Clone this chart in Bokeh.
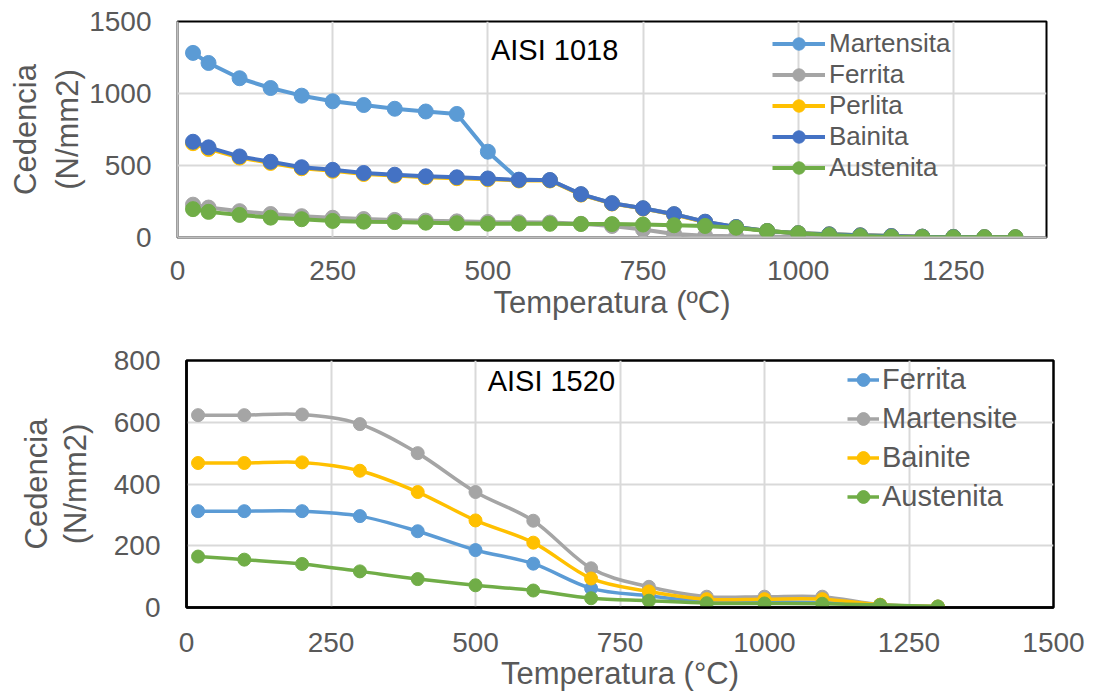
import numpy as np
from bokeh.plotting import figure
from bokeh.models import Range1d, FixedTicker, Legend, LegendItem, Label
from bokeh.embed import file_html
from bokeh.resources import INLINE

# ---------------- AISI 1018 (top) ----------------
temp_1018 = [25, 50, 100, 150, 200, 250, 300, 350, 400, 450, 500, 550, 600, 650,
             700, 750, 800, 850, 900, 950, 1000, 1050, 1100, 1150, 1200, 1250, 1300, 1350]
martensita_1018 = [1282, 1212, 1106, 1038, 985, 946, 920, 894, 875, 858, 596, 402, 398, 300,
                   238, 203, 162, 108, 72, 45, 30, 22, 15, 10, 6, 4, 2, 1]
ferrita_1018 = [228, 208, 183, 163, 148, 137, 128, 122, 117, 112, 108, 106, 104, 95,
                80, 55, 25, 12, 8, 6, 5, 4, 3, 2, 2, 1, 1, 1]
perlita_1018 = [655, 615, 555, 518, 481, 463, 441, 430, 419, 412, 405, 396, 396, 298,
                236, 201, 160, 108, 72, 45, 30, 22, 15, 10, 6, 4, 2, 1]
bainita_1018 = [665, 626, 563, 526, 488, 470, 448, 436, 425, 418, 410, 400, 399, 301,
                238, 203, 162, 110, 73, 45, 30, 22, 15, 10, 6, 4, 2, 1]
austenita_1018 = [197, 178, 157, 138, 127, 115, 110, 107, 103, 99, 96, 96, 95, 94,
                  93, 90, 85, 80, 68, 45, 29, 17, 10, 5, 3, 2, 2, 2]
names_1018 = ["Martensita", "Ferrita", "Perlita", "Bainita", "Austenita"]
x_ticks_1018 = [0, 250, 500, 750, 1000, 1250]
y_ticks_1018 = [0, 500, 1000, 1500]

# ---------------- AISI 1520 (bottom) ----------------
temp_1520 = [20, 100, 200, 300, 400, 500, 600, 700, 800, 900, 1000, 1100, 1200, 1300]
ferrita_1520 = [312, 312, 312, 296, 247, 186, 142, 62, 38, 20, 18, 16, 8, 3]
martensite_1520 = [623, 623, 625, 594, 500, 374, 281, 127, 67, 35, 35, 35, 9, 3]
bainite_1520 = [468, 468, 470, 443, 374, 282, 210, 94, 52, 27, 27, 27, 9, 3]
austenita_1520 = [165, 155, 141, 117, 92, 72, 55, 30, 22, 14, 13, 12, 8, 3]
names_1520 = ["Ferrita", "Martensite", "Bainite", "Austenita"]
x_ticks_1520 = [0, 250, 500, 750, 1000, 1250, 1500]
y_ticks_1520 = [0, 200, 400, 600, 800]

C_LBLUE = "#5B9BD5"
C_GRAY = "#A5A5A5"
C_GOLD = "#FFC000"
C_BLUE = "#4472C4"
C_GREEN = "#70AD47"
TXT = "#595959"
FONT = "Liberation Sans"


def style(p, xt, yt, x_tick_standoff, x_title_standoff, y_title_standoff, y_line_height):
    p.xaxis.ticker = FixedTicker(ticks=xt)
    p.yaxis.ticker = FixedTicker(ticks=yt)
    for ax in (p.xaxis[0], p.yaxis[0]):
        ax.major_tick_in = 0
        ax.major_tick_out = 0
        ax.minor_tick_in = 0
        ax.minor_tick_out = 0
        ax.major_label_text_font = FONT
        ax.major_label_text_font_size = "28px"
        ax.major_label_text_color = TXT
        ax.axis_label_text_font = FONT
        ax.axis_label_text_font_size = "31px"
        ax.axis_label_text_font_style = "normal"
        ax.axis_label_text_color = TXT
    p.yaxis.axis_label_text_line_height = y_line_height
    p.xaxis.major_label_standoff = x_tick_standoff
    p.xaxis.axis_label_standoff = x_title_standoff
    p.yaxis.major_label_standoff = 26
    p.yaxis.axis_label_standoff = y_title_standoff
    p.xgrid.grid_line_color = "#D9D9D9"
    p.ygrid.grid_line_color = "#D9D9D9"
    p.xgrid.grid_line_width = 2
    p.ygrid.grid_line_width = 2
    p.background_fill_color = "white"
    p.border_fill_color = "white"


# ---------------- top figure ----------------
p1 = figure(width=1094, height=322, output_backend="svg", toolbar_location=None,
            x_range=Range1d(0, 1400), y_range=Range1d(0, 1500),
            min_border_left=177, min_border_right=48, min_border_top=21, min_border_bottom=85)
style(p1, x_ticks_1018, y_ticks_1018, 23, 2, 1, 1.2)
p1.xaxis.axis_label = "Temperatura (ºC)"
p1.yaxis.axis_label = "Cedencia\n(N/mm2)"
p1.outline_line_color = "black"
p1.outline_line_width = 2
p1.xaxis.axis_line_color = "#BFBFBF"
p1.yaxis.axis_line_color = "#BFBFBF"
p1.xaxis.axis_line_width = 2
p1.yaxis.axis_line_width = 2

items1 = []
for name, ys, col in zip(names_1018,
                         [martensita_1018, ferrita_1018, perlita_1018, bainita_1018, austenita_1018],
                         [C_LBLUE, C_GRAY, C_GOLD, C_BLUE, C_GREEN]):
    r_l = p1.line(temp_1018, ys, line_color=col, line_width=4)
    r_m = p1.scatter(temp_1018, ys, size=15, fill_color=col, line_color=col)
    items1.append(LegendItem(label=name, renderers=[r_l, r_m]))

leg1 = Legend(items=items1, location=(595, 54), padding=0, margin=0, spacing=0,
              glyph_width=53, glyph_height=31, label_height=31, label_standoff=4,
              label_text_font=FONT, label_text_font_size="26px", label_text_color=TXT,
              background_fill_alpha=0, border_line_alpha=0)
p1.add_layout(leg1, "center")
p1.add_layout(Label(x=505, y=1300, text="AISI 1018", text_font=FONT, text_font_size="29px",
                    text_color="black", text_baseline="middle"))


# ---------------- bottom figure ----------------
def bezier_parts(xs, ys):
    n = len(xs)
    out = {k: [] for k in ("x0", "y0", "x1", "y1", "cx0", "cy0", "cx1", "cy1")}
    for i in range(n - 1):
        a = max(i - 1, 0)
        b = min(i + 2, n - 1)
        out["x0"].append(xs[i]); out["y0"].append(ys[i])
        out["x1"].append(xs[i + 1]); out["y1"].append(ys[i + 1])
        out["cx0"].append(xs[i] + (xs[i + 1] - xs[a]) / 6.0)
        out["cy0"].append(ys[i] + (ys[i + 1] - ys[a]) / 6.0)
        out["cx1"].append(xs[i + 1] - (xs[b] - xs[i]) / 6.0)
        out["cy1"].append(ys[i + 1] - (ys[b] - ys[i]) / 6.0)
    return out


p2 = figure(width=1094, height=371, output_backend="svg", toolbar_location=None,
            x_range=Range1d(0, 1500), y_range=Range1d(0, 800),
            min_border_left=186, min_border_right=41, min_border_top=38, min_border_bottom=85)
style(p2, x_ticks_1520, y_ticks_1520, 25, 1, 18, 1.1)
p2.xaxis.axis_label = "Temperatura (°C)"
p2.yaxis.axis_label = "Cedencia\n(N/mm2)"
p2.outline_line_color = "black"
p2.outline_line_width = 2.5
p2.xaxis.axis_line_color = "black"
p2.yaxis.axis_line_color = "black"
p2.xaxis.axis_line_width = 2.5
p2.yaxis.axis_line_width = 2.5

items2 = []
for name, ys, col in zip(names_1520,
                         [ferrita_1520, martensite_1520, bainite_1520, austenita_1520],
                         [C_LBLUE, C_GRAY, C_GOLD, C_GREEN]):
    bz = bezier_parts(temp_1520, ys)
    r_l = p2.bezier(line_color=col, line_width=3.5, **bz)
    r_m = p2.scatter(temp_1520, ys, size=13, fill_color=col, line_color=col)
    items2.append(LegendItem(label=name, renderers=[r_l, r_m]))

leg2 = Legend(items=items2, location=(661, 91), padding=0, margin=0, spacing=0,
              glyph_width=32, glyph_height=39, label_height=39, label_standoff=3,
              label_text_font=FONT, label_text_font_size="29px", label_text_color=TXT,
              background_fill_alpha=0, border_line_alpha=0)
p2.add_layout(leg2, "center")
p2.add_layout(Label(x=521, y=732, text="AISI 1520", text_font=FONT, text_font_size="29px",
                    text_color="black", text_baseline="middle"))

open("out.html", "w").write(file_html([p1, p2], INLINE))
